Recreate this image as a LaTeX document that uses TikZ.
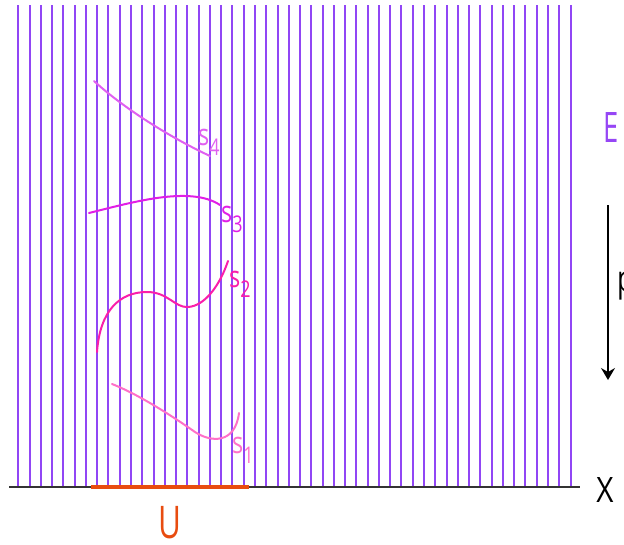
\documentclass[tikz,border=0pt]{standalone}
\usepackage{fontspec}
\setmainfont{Open Sans}
\usetikzlibrary{arrows.meta}
\definecolor{fieldc}{RGB}{145,70,245}
\definecolor{ecol}{RGB}{150,70,245}
\definecolor{ucol}{RGB}{232,76,16}
\definecolor{sfour}{RGB}{224,96,240}
\definecolor{sthree}{RGB}{225,30,230}
\definecolor{stwo}{RGB}{250,30,170}
\definecolor{sone}{RGB}{255,112,200}
\definecolor{axiscol}{RGB}{51,51,51}
\tikzset{
  fieldline/.style={fieldc, line width=2pt},
  axisline/.style={axiscol, line width=2pt},
  uline/.style={ucol, line width=4pt},
  sectcurve/.style={line width=2pt, line cap=round},
  lbl/.style={inner sep=0pt, anchor=base west},
}
\newcommand{\slabel}[1]{\scalebox{0.78}[1]{\fontsize{30}{30}\selectfont s\raisebox{-10pt}{\fontsize{23}{23}\selectfont #1}}}
\begin{document}
\begin{tikzpicture}[x=1pt,y=-1pt]
\useasboundingbox (0,0) rectangle (624,544);
% field lines
\foreach \i in {0,...,49}
  \draw[fieldline] ({18.3+\i*11.27},5) -- ({18.3+\i*11.27},487);
% base axis and U
\coordinate (xa) at (9,487);
\coordinate (xb) at (580,487);
\draw[axisline] (xa) -- (xb);
\coordinate (ua) at (91,487);
\coordinate (ub) at (249,487);
\draw[uline] (ua) -- (ub);
% sections
\draw[sectcurve, sfour] (94,81) .. controls (120,105) and (165,135) .. (210,156);
\draw[sectcurve, sthree] (89,213) .. controls (130,203) and (190,185) .. (220,205);
\draw[sectcurve, stwo] (97,352) .. controls (100,310) and (120,292) .. (147,292)
  .. controls (168,292) and (175,308) .. (188,307)
  .. controls (205,306) and (220,285) .. (228,261);
\draw[sectcurve, sone] (112,384) .. controls (140,395) and (175,418) .. (195,432)
  .. controls (210,442) and (235,445) .. (239,413);
% labels
\node[lbl, text=sfour] (l4) at (198,145) {\slabel{4}};
\node[lbl, text=sthree] (l3) at (221,222) {\slabel{3}};
\node[lbl, text=stwo] (l2) at (229,287) {\slabel{2}};
\node[lbl, text=sone] (l1) at (232,453) {\slabel{1}};
\node[inner sep=0pt, anchor=base, text=ecol] (E) at (611,142) {\scalebox{0.65}[1]{\fontsize{42}{42}\selectfont E}};
\node[inner sep=0pt, anchor=base, text=ucol] (U) at (170,538) {\scalebox{0.7}[1]{\fontsize{45}{45}\selectfont\smash{U}}};
\node[inner sep=0pt, anchor=base, text=black] (X) at (605,502) {\scalebox{0.85}[1]{\fontsize{35}{35}\selectfont X}};
\node[inner sep=0pt, anchor=base west, text=black] (p) at (617,291) {\scalebox{0.75}[1]{\fontsize{36}{36}\selectfont p}};
% projection arrow
\coordinate (pa) at (608,205);
\coordinate (pb) at (608,380);
\draw[black, line width=1.3pt, -{Stealth[length=12pt,width=14pt,inset=4pt]}] (pa) -- (pb);
\end{tikzpicture}
\end{document}
